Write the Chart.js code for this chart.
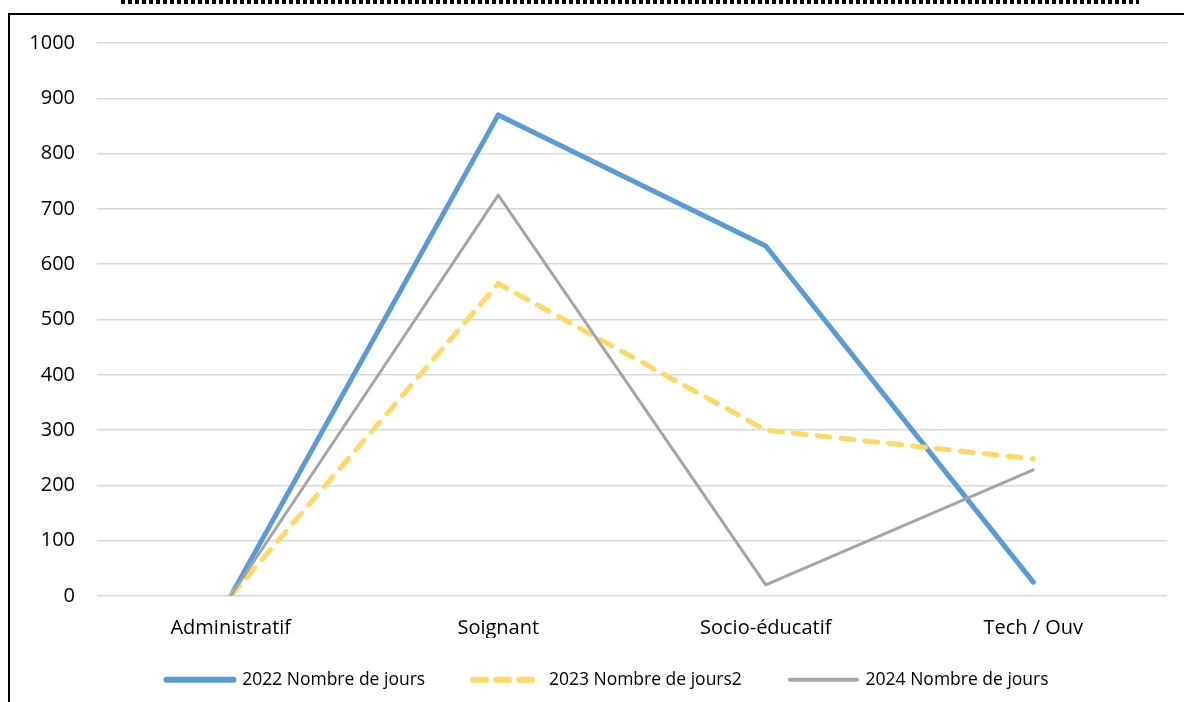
<!DOCTYPE html>
<html>
<head>
<meta charset="utf-8">
<style>
  html, body { margin: 0; padding: 0; background: #fff; }
  #wrap { position: relative; width: 1184px; height: 702px; overflow: hidden; }
  #dots { position: absolute; left: 121px; top: 0; width: 1018px; height: 4px;
          background: repeating-linear-gradient(to right, #000 0 4px, transparent 4px 7px); }
  #frame { position: absolute; left: 8px; top: 13px; width: 1190px; height: 700px;
           border-top: 2px solid #000; border-left: 2px solid #000; }
  canvas { position: absolute; left: 0; top: 0; }
</style>
<script src="https://cdn.jsdelivr.net/npm/chart.js@4/dist/chart.umd.min.js"></script>
</head>
<body>
<div id="wrap">
  <div id="dots"></div>
  <div id="frame"></div>
  <canvas id="c" width="1184" height="702"></canvas>
</div>
<script>
const categories = ['Administratif', 'Soignant', 'Socio-éducatif', 'Tech / Ouv'];
const seriesNames = ['2022 Nombre de jours', '2023 Nombre de jours2', '2024 Nombre de jours'];
const jours2022 = [0, 870, 633, 25];
const jours2023 = [0, 565, 300, 248];
const jours2024 = [0, 725, 20, 228];
const yTicks = [0, 100, 200, 300, 400, 500, 600, 700, 800, 900, 1000];

const FONT = '"Open Sans", "Liberation Sans", sans-serif';

// nudges the bottom legend row to the right and up
const legendNudge = {
  id: 'legendNudge',
  afterLayout(chart) {
    const lg = chart.legend;
    if (!lg) return;
    lg.left += 24; lg.right += 24;
    lg.top -= 15; lg.bottom -= 15;
  }
};

new Chart(document.getElementById('c'), {
  type: 'line',
  plugins: [legendNudge],
  data: {
    labels: categories,
    datasets: [
      { label: seriesNames[0], data: jours2022, borderColor: '#5B9BD5', backgroundColor: '#5B9BD5',
        borderWidth: 5, borderCapStyle: 'round', borderJoinStyle: 'round', order: 3 },
      { label: seriesNames[1], data: jours2023, borderColor: '#FFD966', backgroundColor: '#FFD966',
        borderWidth: 5, borderDash: [13, 11], borderCapStyle: 'round', borderJoinStyle: 'round', order: 2 },
      { label: seriesNames[2], data: jours2024, borderColor: '#A5A5A5', backgroundColor: '#A5A5A5',
        borderWidth: 3, borderCapStyle: 'round', borderJoinStyle: 'round', order: 1 }
    ]
  },
  options: {
    responsive: false,
    animation: false,
    devicePixelRatio: 1,
    elements: { point: { radius: 0, hoverRadius: 0 }, line: { tension: 0 } },
    layout: { padding: { left: 0, right: 17, top: 43, bottom: -11.5 } },
    scales: {
      x: {
        offset: true,
        grid: { display: false, drawTicks: false },
        border: { display: false },
        ticks: { color: '#000', padding: 20, font: { family: FONT, size: 20 }, maxRotation: 0 },
        afterFit: s => { s.height = 42; }
      },
      y: {
        min: 0, max: 1000,
        afterBuildTicks: s => { s.ticks = yTicks.map(v => ({ value: v })); },
        grid: { color: '#D9D9D9', lineWidth: 1.5, drawTicks: false },
        border: { display: false },
        ticks: { color: '#000', padding: 22, font: { family: FONT, size: 20 }, callback: v => String(v) },
        afterFit: s => { s.width = 97; }
      }
    },
    plugins: {
      tooltip: { enabled: false },
      legend: {
        position: 'bottom',
        labels: {
          color: '#000',
          font: { family: FONT, size: 17.5 },
          usePointStyle: true,
          pointStyle: 'line',
          pointStyleWidth: 67,
          padding: 48,
          sort: (a, b) => a.datasetIndex - b.datasetIndex,
          generateLabels: chart => chart.data.datasets.map((ds, i) => ({
            text: ds.label,
            datasetIndex: i,
            strokeStyle: ds.borderColor,
            fillStyle: ds.borderColor,
            lineWidth: ds.borderWidth + 1,
            lineDash: ds.borderDash ? [13, 10] : [],
            lineCap: 'round',
            pointStyle: 'line',
            hidden: false
          }))
        }
      }
    }
  }
});
</script>
</body>
</html>
